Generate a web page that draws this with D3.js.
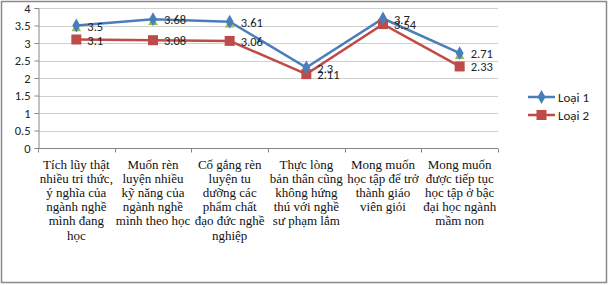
<!DOCTYPE html>
<html>
<head>
<meta charset="utf-8">
<script src="https://cdn.jsdelivr.net/npm/d3@7"></script>
<style>
  body { margin: 0; background: #fff; }
  svg { display: block; }
</style>
</head>
<body>
<svg id="chart" width="609" height="285"></svg>
<script>
const categories = [
  "Tích lũy thật nhiều tri thức, ý nghĩa của ngành nghề mình đang học",
  "Muốn rèn luyện nhiều kỹ năng của ngành nghề mình theo học",
  "Cố gắng rèn luyện tu dưỡng các phẩm chất đạo đức nghề nghiệp",
  "Thực lòng bản thân cũng không hứng thú với nghề sư phạm lắm",
  "Mong muốn học tập để trở thành giáo viên giỏi",
  "Mong muốn được tiếp tục học tập ở bậc đại học ngành mầm non"
];
const labelLines = [
  ["Tích lũy thật", "nhiều tri thức,", "ý nghĩa của", "ngành nghề", "mình đang", "học"],
  ["Muốn rèn", "luyện nhiều", "kỹ năng của", "ngành nghề", "mình theo học"],
  ["Cố gắng rèn", "luyện tu", "dưỡng các", "phẩm chất", "đạo đức nghề", "nghiệp"],
  ["Thực lòng", "bản thân cũng", "không hứng", "thú với nghề", "sư phạm lắm"],
  ["Mong muốn", "học tập để trở", "thành giáo", "viên giỏi"],
  ["Mong muốn", "được tiếp tục", "học tập ở bậc", "đại học ngành", "mầm non"]
];
const loai1 = [3.5, 3.68, 3.61, 2.3, 3.7, 2.71];
const loai2 = [3.1, 3.08, 3.06, 2.11, 3.54, 2.33];
const yTicks = [0, 0.5, 1, 1.5, 2, 2.5, 3, 3.5, 4];

const margin = { left: 38, top: 8, right: 111, bottom: 137 };
const width = 609 - margin.left - margin.right;
const height = 285 - margin.top - margin.bottom;

const blue = "#4a7ebb", red = "#be4b48", green = "#98b954";

const svg = d3.select("#chart");

svg.append("rect")
  .attr("x", 1.5).attr("y", 1.5)
  .attr("width", 605).attr("height", 281)
  .attr("fill", "#fff").attr("stroke", "#8a8a8a").attr("stroke-width", 1.5);

const g = svg.append("g").attr("transform", `translate(${margin.left},${margin.top})`);

const x = d3.scaleBand().domain(d3.range(categories.length)).range([0, width]);
const y = d3.scaleLinear().domain([0, 4]).range([height, 0]);
const cx = i => x(i) + x.bandwidth() / 2;

// gridlines
g.selectAll(".grid").data(yTicks).enter().append("line")
  .attr("x1", 0).attr("x2", width)
  .attr("y1", d => Math.round(y(d)) + 0.5).attr("y2", d => Math.round(y(d)) + 0.5)
  .attr("stroke", "#d0d0d0");

// y axis
const yAxis = d3.axisLeft(y).tickValues(yTicks).tickSize(4).tickFormat(d3.format("~g"));
const ya = g.append("g").attr("transform", "translate(0.5,0)").call(yAxis);
ya.select(".domain").attr("stroke", "#868686");
ya.selectAll(".tick line").attr("stroke", "#868686");
ya.selectAll(".tick text")
  .attr("font-family", "Carlito, 'Liberation Sans', sans-serif")
  .attr("font-size", 12.5).attr("fill", "#222").attr("x", -8);

// x axis
const xa = g.append("g").attr("transform", `translate(0,${Math.round(height) + 0.5})`);
xa.append("line").attr("x1", 0).attr("x2", width).attr("stroke", "#868686");
xa.selectAll(".xt").data(d3.range(categories.length + 1)).enter().append("line")
  .attr("x1", i => Math.round(i * x.bandwidth()) + 0.5)
  .attr("x2", i => Math.round(i * x.bandwidth()) + 0.5)
  .attr("y1", 0).attr("y2", 4).attr("stroke", "#868686");

const lbl = xa.selectAll(".xl").data(labelLines).enter().append("text")
  .attr("text-anchor", "middle")
  .attr("font-family", "'Liberation Serif', 'Times New Roman', serif")
  .attr("font-size", 13).attr("fill", "#111");
lbl.each(function (lines, i) {
  d3.select(this).selectAll("tspan").data(lines).enter().append("tspan")
    .attr("x", cx(i)).attr("y", (d, k) => 20 + k * 14.2).text(d => d);
});

// lines
const line = d3.line().x((d, i) => cx(i)).y(d => y(d));
g.append("path").attr("d", line(loai2)).attr("fill", "none")
  .attr("stroke", red).attr("stroke-width", 2.5);
g.append("path").attr("d", line(loai1)).attr("fill", "none")
  .attr("stroke", blue).attr("stroke-width", 2.5);

// hidden third series markers (green triangles)
g.selectAll(".tri").data(loai1).enter().append("path")
  .attr("d", d3.symbol(d3.symbolTriangle, 40)())
  .attr("transform", (d, i) => `translate(${cx(i)},${y(d) + 3})`)
  .attr("fill", green);

g.selectAll(".sq").data(loai2).enter().append("rect")
  .attr("x", (d, i) => cx(i) - 5).attr("y", d => y(d) - 5)
  .attr("width", 10).attr("height", 10).attr("fill", red);

g.selectAll(".dia").data(loai1).enter().append("path")
  .attr("d", d3.symbol(d3.symbolDiamond, 55)())
  .attr("transform", (d, i) => `translate(${cx(i)},${y(d)})`)
  .attr("fill", blue);

// data labels
const labFont = "Carlito, 'Liberation Sans', sans-serif";
g.selectAll(".l1").data(loai1).enter().append("text")
  .attr("x", (d, i) => cx(i) + 11).attr("y", d => y(d) + 5)
  .attr("font-family", labFont).attr("font-size", 12.5).attr("fill", "#222")
  .text(d => d);
g.selectAll(".l2").data(loai2).enter().append("text")
  .attr("x", (d, i) => cx(i) + 11).attr("y", d => y(d) + 5)
  .attr("font-family", labFont).attr("font-size", 12.5).attr("fill", "#222")
  .text(d => d);

// legend
const legend = svg.append("g").attr("transform", "translate(528,97)");
const items = [["Loại 1", blue, "diamond"], ["Loại 2", red, "square"]];
items.forEach(([name, color, shape], k) => {
  const row = legend.append("g").attr("transform", `translate(0,${k * 18})`);
  row.append("line").attr("x1", 0).attr("x2", 27).attr("stroke", color).attr("stroke-width", 2.5);
  if (shape === "diamond") {
    row.append("path").attr("d", d3.symbol(d3.symbolDiamond, 55)())
      .attr("transform", "translate(13.5,0)").attr("fill", color);
  } else {
    row.append("rect").attr("x", 8.5).attr("y", -5).attr("width", 10).attr("height", 10).attr("fill", color);
  }
  row.append("text").attr("x", 30).attr("y", 5)
    .attr("font-family", labFont).attr("font-size", 13).attr("fill", "#222").text(name);
});
</script>
</body>
</html>
